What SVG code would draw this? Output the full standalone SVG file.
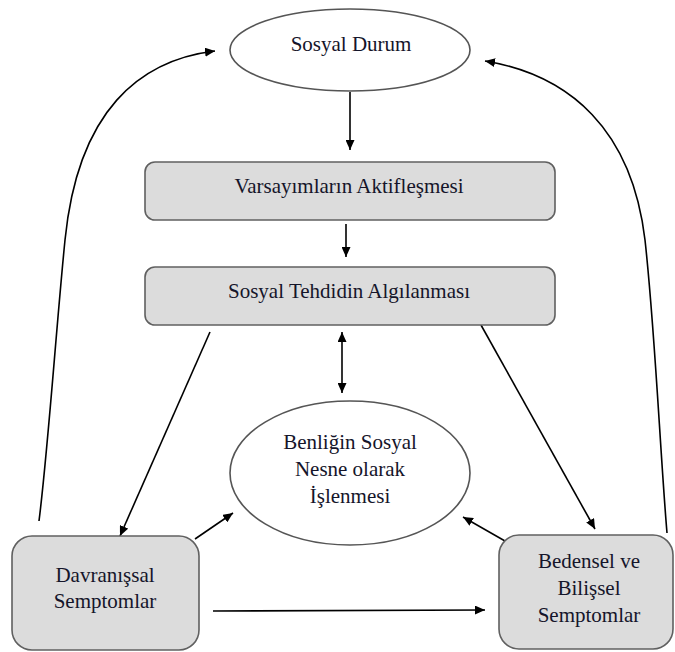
<svg xmlns="http://www.w3.org/2000/svg" width="675" height="652" viewBox="0 0 675 652">
<style>
.box{fill:#dcdcdc;stroke:#606060;stroke-width:1.6}
.ell{fill:#ffffff;stroke:#555555;stroke-width:1.6}
.t{font-size:21px;fill:#15152a;text-anchor:middle}
.c{fill:none;stroke:#000;stroke-width:1.6}
.a{marker-end:url(#ah)}
</style>
<defs>
<marker id="ah" viewBox="0 0 10 9" refX="10" refY="4.5" markerWidth="10" markerHeight="9" markerUnits="userSpaceOnUse" orient="auto-start-reverse">
<path d="M0,0 L10,4.5 L0,9 z" fill="#000"/>
</marker>
</defs>
<rect width="675" height="652" fill="#ffffff"/>
<g id="connectors">
<path class="c a" d="M350,92 L350,150"/>
<path class="c a" d="M346,224 L346,257"/>
<path class="c a" d="M342,332 L342,393" marker-start="url(#ah)"/>
<path class="c a" d="M210,332 L120,536"/>
<path class="c a" d="M481,325 L595,529"/>
<path class="c a" d="M195,539 L233,513"/>
<path class="c a" d="M505,541 L463,517"/>
<path class="c a" d="M213,611 L485,610"/>
<path class="c a" d="M39,521 C48,450 56,330 65,240 C78,110 140,60 215,51"/>
<path class="c a" d="M667,533 C660,450 655,330 645,240 C632,130 570,75 485,61"/>
</g>
<g font-family="Liberation Serif, Times New Roman, Tinos, serif">
<g id="sosyal-durum">
<ellipse class="ell" cx="350" cy="50" rx="120" ry="41"/>
<text class="t" x="351" y="51">Sosyal Durum</text>
</g>
<g id="varsayimlar">
<rect class="box" x="145" y="162" width="410" height="58" rx="10"/>
<text class="t" x="349" y="193">Varsayımların Aktifleşmesi</text>
</g>
<g id="tehdit">
<rect class="box" x="145" y="267" width="410" height="58" rx="10"/>
<text class="t" x="349" y="298">Sosyal Tehdidin Algılanması</text>
</g>
<g id="benlik">
<ellipse class="ell" cx="350" cy="473" rx="120" ry="72"/>
<text class="t" x="350" y="449">Benliğin Sosyal</text>
<text class="t" x="350" y="476">Nesne olarak</text>
<text class="t" x="350" y="503">İşlenmesi</text>
</g>
<g id="davranissal">
<rect class="box" x="12" y="536" width="187" height="114" rx="20"/>
<text class="t" x="105" y="582">Davranışsal</text>
<text class="t" x="105" y="608">Semptomlar</text>
</g>
<g id="bedensel">
<rect class="box" x="499" y="535" width="174" height="114" rx="20"/>
<text class="t" x="589" y="568">Bedensel ve</text>
<text class="t" x="589" y="595">Bilişsel</text>
<text class="t" x="589" y="622">Semptomlar</text>
</g>
</g>
</svg>
